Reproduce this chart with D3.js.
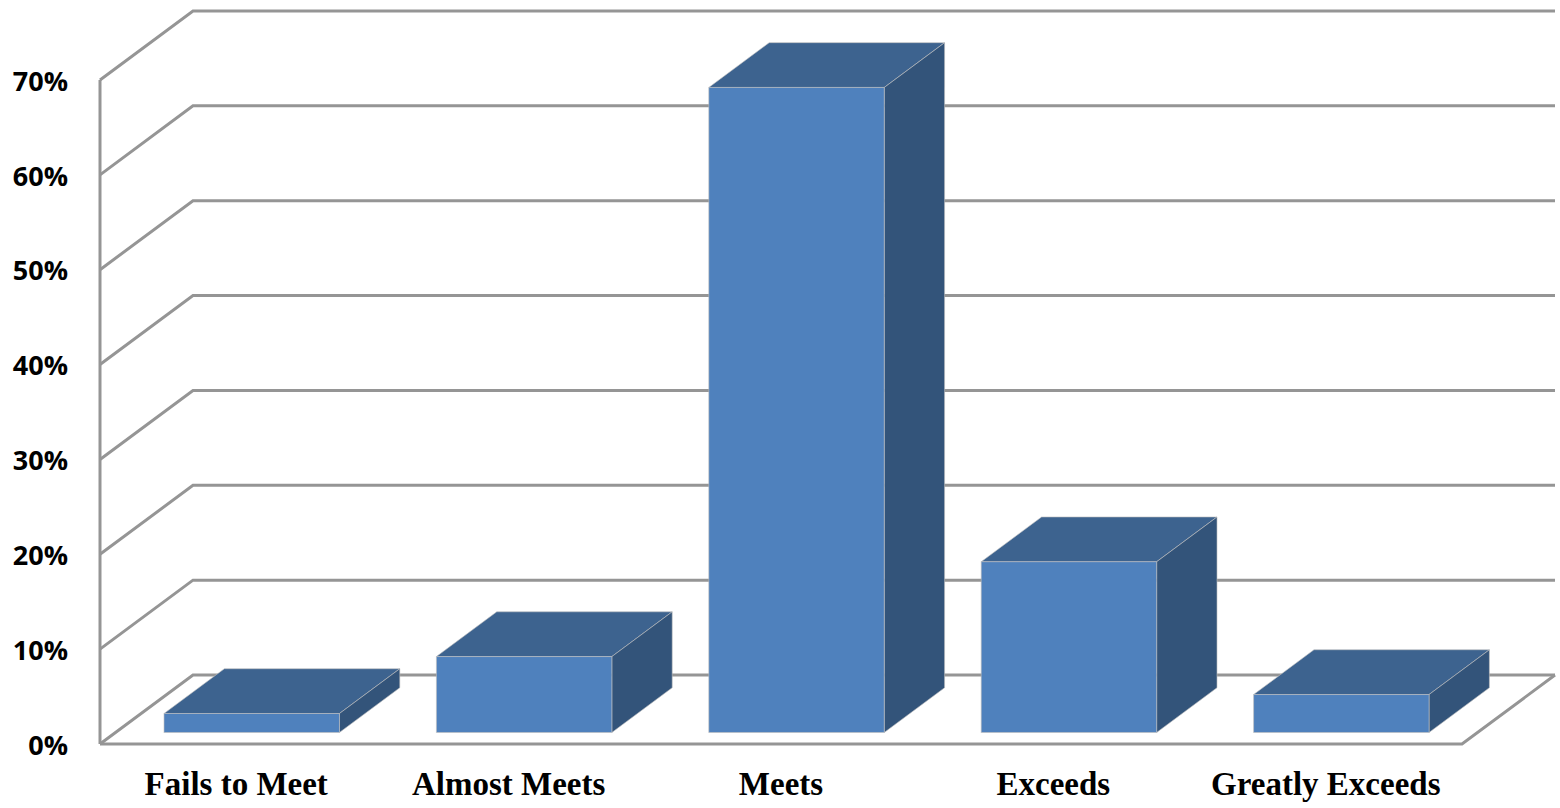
<!DOCTYPE html>
<html>
<head>
<meta charset="utf-8">
<script src="https://cdn.jsdelivr.net/npm/d3@7"></script>
<style>
  html, body { margin: 0; padding: 0; background: #fff; }
  svg { display: block; }
</style>
</head>
<body>
<div id="viz"></div>
<script>
// categories and values (percent)
const categories = ["Fails to Meet", "Almost Meets", "Meets", "Exceeds", "Greatly Exceeds"];
const values = [2, 8, 68, 18, 4];
const yTicks = [0, 10, 20, 30, 40, 50, 60, 70];

const w = 1560;
const h = 808;

// 3d offsets (depth of the box)
const depthX = 93;
const depthY = 69;
const barFront = 0.167; // bar front face position in depth
const barBack = 0.816;  // bar back face position in depth

const left = 100, right = 1462;

const svg = d3.select("#viz").append("svg")
  .attr("width", w)
  .attr("height", h);

const y = d3.scaleLinear().domain([0, 70]).range([744, 80]);

const x = d3.scaleBand()
  .domain(categories)
  .range([left, right])
  .paddingInner(0.356)
  .paddingOuter(0.178);

const gridColor = "#959595";

// walls: gridlines running along the side wall and back wall
svg.append("g").selectAll("path")
  .data(yTicks)
  .enter()
  .append("path")
  .attr("d", d => `M${left},${y(d)} L${left + depthX},${y(d) - depthY} L${right + depthX},${y(d) - depthY}`)
  .attr("fill", "none")
  .attr("stroke", gridColor)
  .attr("stroke-width", 3);

// front vertical axis
svg.append("line")
  .attr("x1", left).attr("x2", left)
  .attr("y1", y(70)).attr("y2", y(0))
  .attr("stroke", gridColor)
  .attr("stroke-width", 3);

// floor front + right edge
svg.append("path")
  .attr("d", `M${left},${y(0)} L${right},${y(0)} L${right + depthX},${y(0) - depthY}`)
  .attr("fill", "none")
  .attr("stroke", gridColor)
  .attr("stroke-width", 3);

// tick labels
svg.append("g").selectAll("text")
  .data(yTicks)
  .enter()
  .append("text")
  .attr("x", 68)
  .attr("y", d => y(d) + 1)
  .attr("dy", "0.36em")
  .attr("text-anchor", "end")
  .style("font-family", "'Open Sans', sans-serif")
  .style("font-weight", "bold")
  .style("font-size", "27px")
  .style("fill", "#000")
  .text(d => d + "%");

// bars
const dx = depthX * (barBack - barFront);
const dy = depthY * (barBack - barFront);
const bw = x.bandwidth();

const bars = svg.append("g").selectAll("g")
  .data(categories.map((c, i) => ({ c: c, v: values[i] })))
  .enter()
  .append("g");

function geo(d) {
  const x0 = x(d.c) + depthX * barFront;
  const yt = y(d.v) - depthY * barFront;
  const yb = y(0) - depthY * barFront;
  return { x0, yt, yb };
}

// top face
bars.append("path")
  .attr("d", d => {
    const g = geo(d);
    return `M${g.x0},${g.yt} L${g.x0 + bw},${g.yt} L${g.x0 + bw + dx},${g.yt - dy} L${g.x0 + dx},${g.yt - dy} Z`;
  })
  .attr("fill", "#3d638f")
  .attr("stroke", "rgba(190,190,190,0.6)")
  .attr("stroke-width", 1);

// side face
bars.append("path")
  .attr("d", d => {
    const g = geo(d);
    return `M${g.x0 + bw},${g.yt} L${g.x0 + bw + dx},${g.yt - dy} L${g.x0 + bw + dx},${g.yb - dy} L${g.x0 + bw},${g.yb} Z`;
  })
  .attr("fill", "#33547a")
  .attr("stroke", "rgba(190,190,190,0.6)")
  .attr("stroke-width", 1);

// front face
bars.append("rect")
  .attr("x", d => geo(d).x0)
  .attr("y", d => geo(d).yt)
  .attr("width", bw)
  .attr("height", d => geo(d).yb - geo(d).yt)
  .attr("fill", "#4f81bd")
  .attr("stroke", "rgba(190,190,190,0.6)")
  .attr("stroke-width", 1);

// category labels
svg.append("g").selectAll("text")
  .data(categories)
  .enter()
  .append("text")
  .attr("x", d => x(d) + bw / 2)
  .attr("y", 795)
  .attr("text-anchor", "middle")
  .style("font-family", "'Liberation Serif', serif")
  .style("font-weight", "bold")
  .style("font-size", "33px")
  .style("fill", "#000")
  .text(d => d);
</script>
</body>
</html>
